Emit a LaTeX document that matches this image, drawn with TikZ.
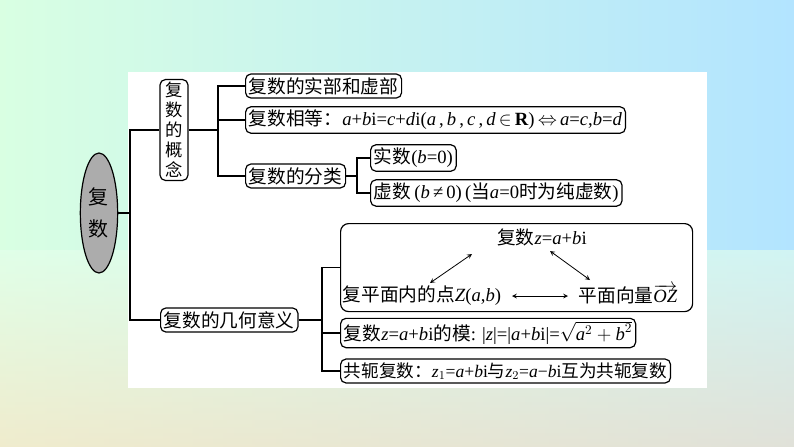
\documentclass[tikz,border=0pt]{standalone}
\usepackage{fontspec}
\setmainfont{Liberation Serif}
\newfontfamily\cjk{Noto Sans CJK SC}
\newcommand{\vi}[1]{\textit{#1}}
\usetikzlibrary{shapes.geometric}
\begin{document}
\begin{tikzpicture}[x=0.75pt,y=-0.75pt,
  ft/.style={font=\fontsize{14}{16}\selectfont},
  bx/.style={draw,rounded corners=4pt,line width=0.9pt,inner sep=2.5pt,anchor=west,ft},
  ln/.style={line width=0.9pt},
  ar/.style={<->,>=stealth,line width=0.6pt}]
\shade[left color=cyan!25!green!15,right color=blue!35!cyan!30] (0,0) rectangle (794,447);
\shade[top color=cyan!25!green!10,bottom color=orange!25,opacity=0.6] (0,250) rectangle (794,447);
\fill[white] (128,72) rectangle (707,388);
\node[ellipse,draw,fill=gray!65,line width=0.9pt,minimum width=28,minimum height=90,font=\cjk\fontsize{15}{18}\selectfont,align=center,inner sep=0pt] (root) at (99,213) {复\\[6pt]数};
\node[draw,rounded corners=4pt,line width=0.9pt,minimum width=21,minimum height=75,font=\cjk\fontsize{13}{15}\selectfont,align=center,inner sep=2pt] (gn) at (174,130) {复\\数\\的\\概\\念};
\node[bx] (a1) at (245,86) {\cjk 复数的实部和虚部};
\node[bx] (a2) at (245,120) {{\cjk 复数相等：}\vi{a}+\vi{b}i=\vi{c}+\vi{d}i(\vi{a}\,,\,\vi{b}\,,\,\vi{c}\,,\,\vi{d}\,$\in$\,\textbf{R})\,$\Leftrightarrow$\,\vi{a}=\vi{c},\vi{b}=\vi{d}};
\node[bx] (a3) at (245,176) {\cjk 复数的分类};
\node[bx] (b1) at (370,158) {{\cjk 实数}(\vi{b}=0)};
\node[bx] (b2) at (370,193) {{\cjk 虚数}\,(\vi{b}\,≠\,0)\,({\cjk 当}\vi{a}=0{\cjk 时为纯虚数})};
\node[bx] (g2) at (160,320) {\cjk 复数的几何意义};
\node[draw,rounded corners=6pt,line width=0.9pt,anchor=north west,minimum width=352*0.75pt,minimum height=88*0.75pt] (c1) at (340,223) {};
\node[ft] (z) at (542,237) {{\cjk 复数}\vi{z}=\vi{a}+\vi{b}i};
\node[ft] (p) at (422,296) {{\cjk 复平面内的点}\vi{Z}(\vi{a},\vi{b})};
\node[ft] (v) at (628,294) {{\cjk 平面向量}$\overrightarrow{\vi{OZ}}$};
\node[bx] (c2) at (340,333) {{\cjk 复数}\vi{z}=\vi{a}+\vi{b}i{\cjk 的模}: |\vi{z}|=|\vi{a}+\vi{b}i|=$\sqrt{\vi{a}^2+\vi{b}^2}$};
\node[bx,font=\fontsize{13.2}{16}\selectfont] (c3) at (340,371) {{\cjk 共轭复数：}\vi{z}$_1$=\vi{a}+\vi{b}i{\cjk 与}\vi{z}$_2$=\vi{a}−\vi{b}i{\cjk 互为共轭复数}};
\draw[ar] (430,283) -- (472,254);
\draw[ar] (550,251) -- (590,280);
\draw[ar] (512,296) -- (568,296);
\draw[ln] (root.east) -- (130,213);
\draw[ln] (gn.west) -| (130,320) -- (g2.west);
\draw[ln] (130,213) -- (130,130);
\draw[ln] (gn.east) -- (218,130);
\draw[ln] (a1.west) -| (218,176) -- (a3.west);
\draw[ln] (218,120) -- (a2.west);
\draw[ln] (b1.west) -| (357,193) -- (b2.west);
\draw[ln] (a3.east) -- (357,176);
\draw[ln] (g2.east) -- (322,320);
\draw[ln] (c1.west) -| (322,371) -- (c3.west);
\draw[ln] (322,333) -- (c2.west);
\end{tikzpicture}
\end{document}
